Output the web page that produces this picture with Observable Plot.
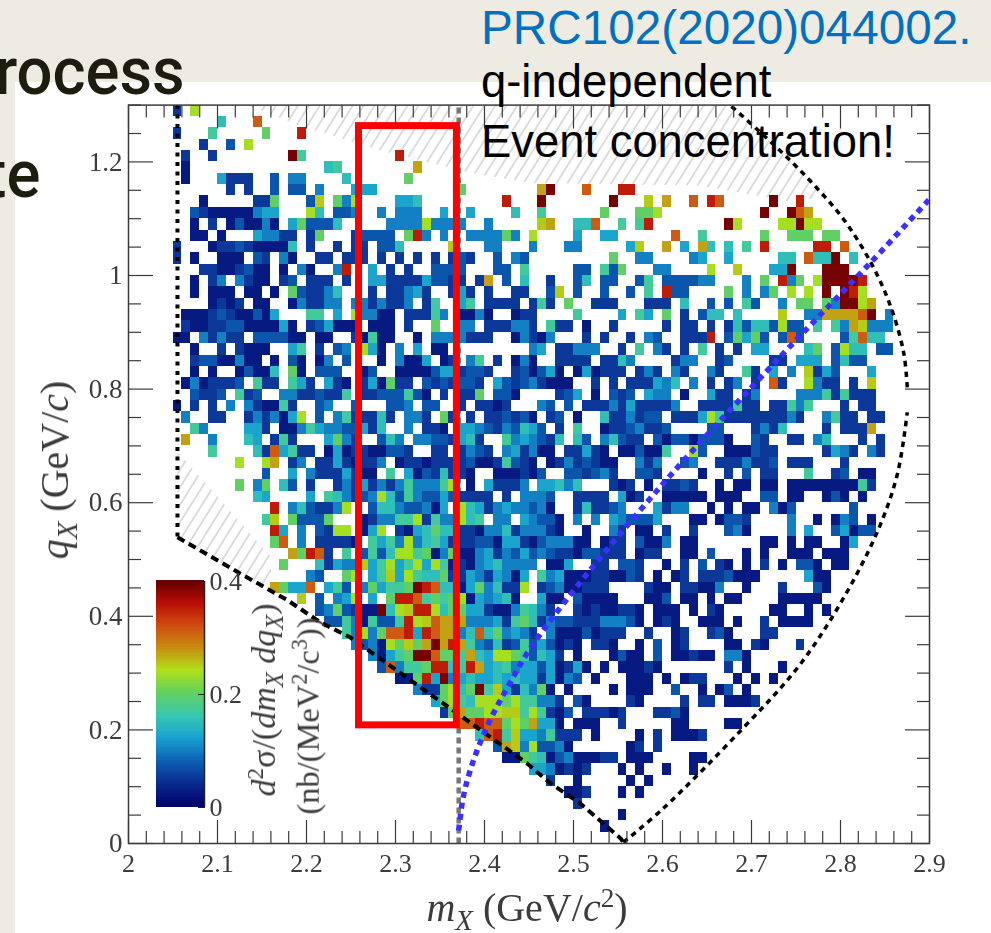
<!DOCTYPE html>
<html><head><meta charset="utf-8">
<script src="https://cdn.jsdelivr.net/npm/d3@7"></script>
<script src="https://cdn.jsdelivr.net/npm/@observablehq/plot@0.6"></script>
<style>
html,body{margin:0;padding:0;width:991px;height:933px;overflow:hidden;background:#eeebe3}
#panel{position:absolute;left:15px;top:82px;width:976px;height:851px;background:#fff}
#chart,#bar{position:absolute;filter:blur(.4px)}
#chart{left:0;top:0}
#bar{left:156px;top:571px}
.lab{position:absolute;font-family:"Liberation Serif",serif;color:#3c3c3c;white-space:nowrap;transform:translate(-50%,-50%);filter:blur(.3px);line-height:1}
.rot{transform:translate(-50%,-50%) rotate(-90deg)}
.lab sub{font-size:.72em;line-height:0}.lab sup{font-size:.68em;line-height:0}
.slide{position:absolute;white-space:nowrap;line-height:1;font-family:"Liberation Sans",sans-serif;font-size:45.4px}
.big{font-family:Roboto,sans-serif;font-weight:500;font-size:66px;color:#1d1d0f;line-height:1;position:absolute;white-space:nowrap;transform-origin:right center;transform:scaleX(.96)}
</style></head><body>
<div id="panel"></div>
<div id="chart"></div>
<div id="bar"></div>
<div class="lab" style="left:527px;top:908px;font-size:40px"><i>m</i><sub><i>X</i></sub> (GeV/<i>c</i><sup>2</sup>)</div>
<div class="lab rot" style="left:55px;top:470px;font-size:40px"><i>q</i><sub><i>X</i></sub> (GeV/<i>c</i>)</div>
<div class="lab rot" style="left:264px;top:700px;font-size:34px"><i>d</i><sup>2</sup>σ/(<i>dm</i><sub><i>X</i></sub> <i>dq</i><sub><i>X</i></sub>)</div>
<div class="lab rot" style="left:308px;top:716px;font-size:32.5px">(nb/(MeV<sup>2</sup>/c<sup>3</sup>))</div>
<div class="big" style="right:806px;top:39px">rocess</div>
<div class="big" style="right:951px;top:142px">te</div>
<div class="slide" style="left:481px;top:4px;font-size:47.7px;color:#0070c0">PRC102(2020)044002.</div>
<div class="slide" style="left:481px;top:59px;color:#000">q-independent</div>
<div class="slide" style="left:481px;top:119px;color:#000">Event concentration!</div>
<script>
// Histogram rows from the top q bin (1.28–1.30) down to the lowest (0–0.02).
// Each entry is "firstColumn:levels", column 0 being mX 2.00–2.01.
const rows = [
"5:1 7:8",
"10:5 14:b",
"5:1 9:6 15:7 19:c",
"8:1 11:2 13:8",
"6:1 9:1 18:d6 30:c",
"6:0 22:56 32:a",
"6:0 10:4111 16:2 18:33 24:5 31:7",
"11:1 13:1 16:2 18:22 21:3 25:444 37:7 46:ad 51:b 55:cc",
"8:0 14:11 16:7 20:29 23:7 24:38 30:445 42:c 46:d 54:d 58:9 60:a 63:b 65:cb 72:d 75:c",
"7:2100000344 20:85 23:223 28:3 30:333 35:4 38:4 43:5 46:6 53:7 57:778 71:d 74:dba",
"7:0 9:1 11:020030 18:47 20:2225 29:3333 33:8 34:3333 40:3 46:9a 50:55 52:b 55:6 57:6c 67:d8 73:88 75:d 76:88",
"7:00 10:0 14:43311 20:1 21:7 25:12222 31:7c3 35:3 38:3333 42:7 43:3 45:8 50:4 53:44 61:b 64:6 71:7 74:777 78:77",
"5:1 9:0 10:1121 14:0000 18:5 20:1 23:1 25:11 28:225 36:9 40:33 45:3 49:33 56:49 60:a 62:4 64:a5 67:5 69:6 71:c 77:cc 80:b",
"5:1 7:0 10:000 14:21 17:30 21:11 24:111 28:1 30:1 32:1 34:1 36:1 37:21 41:2 43:32 54:7 57:33 63:34 67:4 73:55 76:b55d 81:5",
"8:11 10:00 12:12 14:00 17:0 19:3 20:0 23:3c 27:4 29:1 31:1 34:222 37:2 41:22 44:6 50:22 53:6 54:2 55:7 59:33 65:8 68:9 72:44 74:d 78:ddd",
"7:0 9:13 12:3100 17:12 20:111 24:1 27:44 29:1111 33:4 34:2211 39:1a 42:2 44:5 47:1 50:25 53:22 57:26 60:222233 69:3 71:7 73:c3 75:7 77:8 78:dddd 82:c",
"7:0 9:000 13:00 16:0 18:721135 27:1 29:11 31:341 36:141 40:1 43:11 47:29 50:2 53:2 56:2 58:6 60:c22 67:7 69:3 71:37 74:8 76:8 78:d 80:dc8",
"9:0101 14:00 18:031133 25:33 27:1 28:3 29:11 31:3 33:16 37:46 40:1111 45:161 49:7 52:111 58:111 62:5 65:2 67:2 69:62 73:3 75:77 78:73 80:dd8a",
"6:00012100204 20:66 23:4 25:8 26:33 28:00 31:111 34:63 37:003 40:0 43:01 45:1 50:6 55:4 57:64 60:7 62:1 64:25 66:5 68:5 73:9 76:33 78:aaaab 83:d 85:3",
"6:1001122000040 20:124 23:000 27:000 31:1 34:7 37:33 40:11 42:133 45:1 47:611 51:0 54:1 60:1 62:11 65:1 67:1 68:52 70:55 72:28 74:22 77:6 79:63 81:a9 83:333",
"5:00 8:31311 14:222200 21:00 25:106 28:00 32:0 34:3333 38:111 43:03 45:10 47:3 51:1 53:1 56:1 58:32 62:111 65:c 67:2 68:747 71:2 73:2 74:b2 80:2 81:6b 83:55",
"7:0 10:1 12:1000 18:46 21:1 23:23 26:840 30:3 32:4 34:00 45:34 48:11 50:333 55:1 57:6 59:31 62:1 64:6 66:1 68:1 70:44 76:57 79:2 80:8 81:55 84:22",
"7:12200300 16:0 18:20 21:03 24:2 28:0 30:3 31:004 35:01 38:36 41:1 43:03 45:0 48:1111 53:11 55:53 61:1 62:33 66:12 72:11 75:444 79:25 81:22",
"7:0 9:0 12:020 15:05 18:70 21:222 26:02 30:00002 35:441 38:221 43:12 45:024 48:0 50:04 52:0111 57:131 61:31 65:31 69:61 72:4 74:3 76:9142 83:4",
"6:0301112 14:611 18:641 22:410 26:140711 33:2121221 41:4212 45:31000 52:1 54:1 56:111 59:435 63:3 65:1 67:1 68:3 70:1 72:b1 76:83 78:11 81:1 83:9",
"7:2112 12:612 17:33112116 26:11222620 35:1 37:11 39:7 41:220 48:124 52:0 54:212 58:433 62:0 65:4 66:11 69:13 75:333 78:61 80:6 81:111",
"5:0 7:1 9:1 11:3 13:3100 17:61 21:23 25:2 29:223 33:22 37:1 39:1101 46:32 49:2 51:111 54:31 56:41111 61:3 64:111 67:16 69:11 72:11 74:636 80:1 82:11",
"6:3 9:11 13:1313048 21:2 23:36111 28:51 31:3 32:3 33:1 35:71 38:1 40:11 42:212 45:0 47:12 50:0 53:511 56:3122 61:111 64:486 67:1111111 74:31 78:36 80:11 83:11",
"7:63 13:441 17:00 19:364 22:3322 26:4 27:1 28:5 31:3 33:110 37:4432 41:1325 45:42 48:1 50:6 53:011 56:23112 65:22 70:131 73:5 78:1 80:111 83:a",
"6:a 9:3 13:54 16:161 22:4731 28:253 32:33 34:221 37:451 42:634 45:321 48:5 50:52 53:35 55:211 59:20 61:220 64:222 67:0 70:21 74:11 77:35 82:1 84:1",
"9:6 14:51b46 19:11 22:0401100221 34:11 37:1321 42:341 45:300 49:114 52:10 55:002 58:00 60:6 63:8 64:2 67:000 70:211 78:1431 83:31",
"12:8 15:8a 18:13 21:11410113 30:011011112001621 45:0 47:01312100 57:313 62:23 66:111 69:3112 74:111 80:1",
"15:2 18:4 20:3 21:1114 25:100 29:6 31:40215110 41:0001 45:02 49:221231 57:221 64:0 67:1 69:2 71:11 76:6 79:12 82:00",
"12:7 14:37 17:52 20:1 23:13141313633368 38:0 40:4111 44:3 46:44535 54:101 58:0 60:11 62:21 66:0 68:00 71:00 74:00000000 82:61",
"14:54 20:4 22:6531238526322421111 42:1 44:3 45:332 50:1111 55:4 56:01 60:00000 66:000 71:22 74:00 78:020 82:0",
"16:c 18:3521138 27:255322304 37:85413433 45:230 50:15 52:112 55:3 59:41 61:33 65:0 67:0 69:00 72:302 81:2",
"15:69 18:7222 22:7 26:01 28:33 30:668 33:16 35:33 37:856 41:33 44:4 45:3220 50:3 52:3 54:43 56:2224 63:00 66:0 67:221 74:3 77:0 79:032 83:0",
"16:c4 19:3 21:2188 26:048 30:10 32:457 35:55 37:110 40:3351 44:3 45:3310 51:0 54:31 57:00 60:1 63:1 67:230 74:3 76:4 79:24022",
"16:7b 19:3 21:11110 27:646383564111220441 45:0233300 53:011 57:200 60:3 62:00 71:00 74:0 76:00 80:04",
"18:a7cb1 24:6 26:26 28:25886703700341324 45:23211 50:0 51:221 54:11 57:011 62:00 65:2 69:0 71:0 74:000 78:000",
"17:7 21:514339468468486010345333 45:3 47:004 52:11 55:221 60:0 62:1 64:2 66:10 69:0 71:1 73:0 75:22 77:0 79:00",
"20:32 24:78 27:469486557114314304 46:634 49:00011 54:00 56:21 59:0 61:01 64:111 67:20 69:00 76:4 77:00",
"16:a7 18:44b 22:462 26:374667dcb5504735118 46:123 49:0 50:0111 58:100 62:11 64:00 66:3 69:0 73:1 77:20",
"19:9 21:2 23:34 25:8 27:4 29:7ccb67678 38:04345 43:0 46:400 50:20000 58:002 62:00 65:0 67:00 73:00000",
"21:23721 26:00 28:d5 30:89 32:cc 34:85 36:7 37:744 40:100 43:36 45:531 50:1010011 57:0 59:000 63:0 65:10 72:00 76:0 78:0",
"22:22630622 30:6c89baaa3334167 45:5 46:13 48:22 50:111 53:333 56:20 59:0 60:10 64:000 68:0 71:1 73:0000",
"24:63 26:8 27:37bbc4cbaa 37:35b57343 45:1 47:3 48:000 51:2 52:0 53:111 58:1 61:01 65:120 71:11",
"25:3 26:23 28:0 29:8797adaca6325126 45:24 47:2 48:010 52:110 57:0 59:2 61:01 67:00 70:10 75:1",
"27:30467ddb776a548876 45:254 48:1 50:0 54:02 56:00 59:2 61:00 63:1 64:00 67:33 69:0",
"28:2b3 31:667 34:cc5 37:6ca4 41:5 42:6 43:3 44:4 45:424 48:0 49:140 53:0 55:00010 67:1 69:0 73:0",
"30:00 32:7c4d3 37:45445454 45:414032 52:0 56:000 60:0 62:011 68:0 70:0 72:0",
"32:311 35:78 37:57d69415 45:370 49:0 54:0 56:000 61:2 64:0 66:02 69:0",
"34:4 35:78 37:65888786 45:6331 50:20 56:10 62:1 64:11 67:0001",
"35:17 37:a7788996 45:86102 51:11101 59:11 61:20",
"37:bbcbb787 45:a440 50:000 55:1 61:00 67:00",
"39:5bc694 45:436111 52:0 57:0 59:1 61:0001",
"41:2a93 45:82230 56:01 59:1",
"42:007 45:65023 50:00011 56:000 63:00",
"45:44301 50:01 55:0 57:0 60:0 63:0",
"47:1 50:0 56:0 58:0",
"49:001 55:0 57:0",
"50:1",
"55:0",
"53:0",
""
];
const levelCodes = "0123456789abcd";
const levelValues = [.025,.05,.072,.1,.125,.15,.17,.197,.235,.25,.27,.31,.35,.39];
const paletteStops = ["#00006a","#0a2a90","#0c60b4","#18a0d0","#38c8b0","#62d060","#b0e018","#c88c10","#cf4a10","#b80c06","#600000"];

const xMajor = [2,2.1,2.2,2.3,2.4,2.5,2.6,2.7,2.8,2.9];
const xMinor = [2.02,2.04,2.06,2.08,2.12,2.14,2.16,2.18,2.22,2.24,2.26,2.28,2.32,2.34,2.36,2.38,2.42,2.44,2.46,2.48,2.52,2.54,2.56,2.58,2.62,2.64,2.66,2.68,2.72,2.74,2.76,2.78,2.82,2.84,2.86,2.88];
const yMajor = [0,.2,.4,.6,.8,1,1.2];
const yMinor = [.05,.1,.15,.25,.3,.35,.45,.5,.55,.65,.7,.75,.85,.9,.95,1.05,1.1,1.15,1.25,1.3];
const barTicks = [0,.2,.4];

const leftEdge = [[2.055,1.3],[2.055,.539]];
const lowerEdge = [[2.055,.539],[2.126,.475],[2.179,.428],[2.216,.389],[2.249,.363],[2.365,.234],[2.448,.141],[2.474,.106],[2.508,.07],[2.553,.009],[2.556,.002]];
const rightLower = [[2.556,.002],[2.601,.062],[2.688,.199],[2.752,.31],[2.8,.423],[2.842,.551],[2.864,.651],[2.875,.759]];
const rightUpper = [[2.875,.803],[2.871,.864],[2.856,.947],[2.834,1.023],[2.803,1.1],[2.774,1.153],[2.744,1.202],[2.71,1.252],[2.676,1.3]];
const blueCurve = [[2.371,.023],[2.376,.081],[2.384,.129],[2.396,.181],[2.41,.229],[2.426,.275],[2.448,.335],[2.489,.423],[2.601,.634],[2.736,.863],[2.834,1.023],[2.905,1.143]];
const grayLine = [[2.371,0],[2.371,1.3]];
const hatchTop = [[2.134,1.3],[2.193,1.263],[2.283,1.22],[2.384,1.181],[2.452,1.163],[2.643,1.158],[2.744,1.13],[2.789,1.14],[2.744,1.202],[2.676,1.3],[2.134,1.3]];
const hatchLow = [[2.055,.539],[2.055,.69],[2.16,.505],[2.16,.442],[2.055,.539]];
const redBox = [{x1:2.259,x2:2.369,y1:.208,y2:1.263}];

const binX = .01, binY = .02, yTop = 1.3;
const cells = [];
rows.forEach((row, r) => {
  row.split(" ").filter(Boolean).forEach(run => {
    const [start, codes] = run.split(":");
    [...codes].forEach((c, k) => {
      const j = +start + k;
      cells.push({x1: 2 + j*binX, x2: 2 + (j+1)*binX, y2: yTop - r*binY, y1: yTop - (r+1)*binY, v: levelValues[levelCodes.indexOf(c)]});
    });
  });
});

const colorOpt = {type:"linear", domain:[0,.4], interpolate:d3.piecewise(d3.interpolateRgb, paletteStops)};
const tickCol = "#3a3a3a", serif = "Liberation Serif";
const fmt = d => String(d);
const butt = {strokeLinecap:"butt", strokeLinejoin:"miter"};

const chart = Plot.plot({
  width:991, height:933, marginLeft:128, marginRight:62, marginTop:104.6, marginBottom:90,
  style:{background:"transparent"},
  x:{domain:[2,2.9]}, y:{domain:[0,1.3]}, color:colorOpt,
  marks:[
    Plot.line(hatchTop,{x:d=>d[0],y:d=>d[1],fill:"url(#hatch)",stroke:"none"}),
    Plot.line(hatchLow,{x:d=>d[0],y:d=>d[1],fill:"url(#hatch)",stroke:"none"}),
    Plot.line(grayLine,{x:d=>d[0],y:d=>d[1],stroke:"#777",strokeWidth:4.5,strokeDasharray:"6 4",...butt}),
    Plot.rect(cells,{x1:"x1",x2:"x2",y1:"y1",y2:"y2",fill:"v",shapeRendering:"crispEdges"}),
    Plot.line(leftEdge,{x:d=>d[0],y:d=>d[1],stroke:"#000",strokeWidth:4,strokeDasharray:"4 5.5",...butt}),
    Plot.line(lowerEdge,{x:d=>d[0],y:d=>d[1],stroke:"#000",strokeWidth:4,strokeDasharray:"8 5",...butt}),
    Plot.line(rightLower,{x:d=>d[0],y:d=>d[1],curve:"catmull-rom",stroke:"#000",strokeWidth:3.5,strokeDasharray:"5.5 5",...butt}),
    Plot.line(rightUpper,{x:d=>d[0],y:d=>d[1],curve:"catmull-rom",stroke:"#000",strokeWidth:3.5,strokeDasharray:"5.5 5",...butt}),
    Plot.line(blueCurve,{x:d=>d[0],y:d=>d[1],curve:"catmull-rom",clip:true,stroke:"#3a30ff",strokeWidth:5.5,strokeDasharray:"6 5",...butt}),
    Plot.rect(redBox,{x1:"x1",x2:"x2",y1:"y1",y2:"y2",fill:"none",stroke:"#ff0000",strokeWidth:7}),
    Plot.frame({stroke:tickCol,strokeWidth:1.5}),
    Plot.axisX({anchor:"bottom",ticks:xMajor,tickSize:-23,tickPadding:33,tickFormat:fmt,label:null,fontSize:26,fontFamily:serif,fill:"#3c3c3c",stroke:tickCol,strokeWidth:1.2,textAnchor:"middle"}),
    Plot.axisX({anchor:"top",ticks:xMajor,tickSize:-23,tickFormat:null,text:null,label:null,stroke:tickCol,strokeWidth:1.2}),
    Plot.axisX({anchor:"bottom",ticks:xMinor,tickSize:-12,tickFormat:null,text:null,label:null,stroke:tickCol,strokeWidth:1.2}),
    Plot.axisX({anchor:"top",ticks:xMinor,tickSize:-12,tickFormat:null,text:null,label:null,stroke:tickCol,strokeWidth:1.2}),
    Plot.axisY({anchor:"left",ticks:yMajor,tickSize:-25,tickPadding:31,tickFormat:fmt,label:null,fontSize:27,fontFamily:serif,fill:"#3c3c3c",stroke:tickCol,strokeWidth:1.2}),
    Plot.axisY({anchor:"right",ticks:yMajor,tickSize:-25,tickFormat:null,text:null,label:null,stroke:tickCol,strokeWidth:1.2}),
    Plot.axisY({anchor:"left",ticks:yMinor,tickSize:-13,tickFormat:null,text:null,label:null,stroke:tickCol,strokeWidth:1.2}),
    Plot.axisY({anchor:"right",ticks:yMinor,tickSize:-13,tickFormat:null,text:null,label:null,stroke:tickCol,strokeWidth:1.2})
  ]
});
// Hatch pattern used by the two forbidden regions.
const defs = d3.select(chart).append("defs");
defs.append("pattern").attr("id","hatch").attr("patternUnits","userSpaceOnUse").attr("width",9.3).attr("height",9.3).attr("patternTransform","rotate(32)")
  .append("line").attr("x1",1).attr("x2",1).attr("y1",0).attr("y2",9.3).attr("stroke","#d2d2d2").attr("stroke-width",1.5);
document.getElementById("chart").append(chart);

const barLevels = d3.range(0,.4,.004);
const bar = Plot.plot({
  width:96, height:246, marginLeft:0, marginRight:48, marginTop:10, marginBottom:10,
  style:{background:"transparent",overflow:"visible"},
  x:{domain:[0,1],axis:null}, y:{domain:[0,.4]}, color:colorOpt,
  marks:[
    Plot.rect(barLevels,{x1:0,x2:1,y1:d=>d,y2:d=>d+.006,fill:d=>d,shapeRendering:"crispEdges"}),
    Plot.ruleX([1],{stroke:"#222",strokeWidth:1.5}),
    Plot.axisY({anchor:"right",ticks:barTicks,tickSize:-7,tickPadding:12,tickFormat:fmt,label:null,fontSize:26,fontFamily:serif,fill:"#3c3c3c",stroke:"#222"})
  ]
});
document.getElementById("bar").append(bar);
</script>
</body></html>
